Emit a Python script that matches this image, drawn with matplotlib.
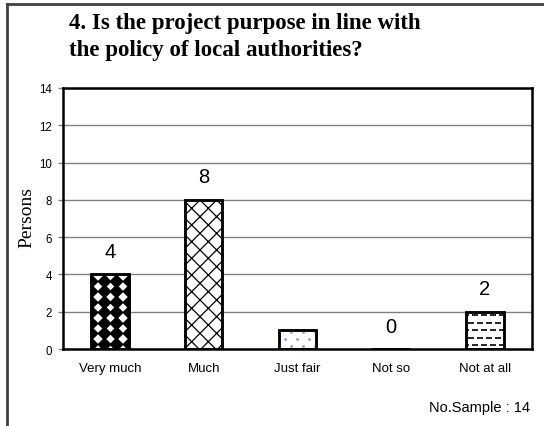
# -*- coding: utf-8 -*-
import numpy as np
import matplotlib
matplotlib.use("Agg")
import matplotlib.pyplot as plt
from matplotlib.lines import Line2D

# ====== Datos ======
categorias = ["Very much", "Much", "Just fair", "Not so", "Not at all"]
personas = [4, 8, 1, 0, 2]
etiquetas_valor = ["4", "8", "", "0", "2"]
titulo = "4. Is the project purpose in line with\nthe policy of local authorities?"
muestra = "No.Sample : 14"

SANS = "Liberation Sans"
SERIF = "Liberation Serif"

plt.rcParams["hatch.linewidth"] = 0.9

fig = plt.figure(figsize=(5.44, 4.27), dpi=100)
ax = fig.add_axes([0.1158, 0.1803, 0.862, 0.6113])

x = np.arange(len(categorias))
ANCHO = 0.4


def relleno_marcadores(ax, barra, dx, dy, marker, size, color, stagger=True):
    # rellena una barra con un patrón de marcadores recortados a la barra
    x0, y0 = barra.get_x(), barra.get_y()
    w, h = barra.get_width(), barra.get_height()
    if h <= 0:
        return
    # pasar paso en pixeles a datos
    inv = ax.transData.inverted()
    p0 = inv.transform((0, 0))
    p1 = inv.transform((dx, dy))
    sx, sy = p1[0] - p0[0], p1[1] - p0[1]
    xs, ys = [], []
    for i, yy in enumerate(np.arange(y0 + sy / 2, y0 + h + sy, sy)):
        off = sx / 2 if (stagger and i % 2) else 0
        for xx in np.arange(x0 + off, x0 + w + sx, sx):
            xs.append(xx)
            ys.append(yy)
    pts = ax.scatter(xs, ys, marker=marker, s=size, color=color, linewidths=1.2, zorder=3)
    pts.set_clip_path(barra)


ax.set_xlim(-0.5, len(categorias) - 0.5)
ax.set_ylim(0, 14)

barras = ax.bar(x, personas, width=ANCHO, color="white", edgecolor="black",
                linewidth=1.8, zorder=2)

# Very much: diamantes negros
relleno_marcadores(ax, barras[0], 12.5, 10.5, "D", 38, "black", stagger=False)
# Much: tejido
barras[1].set_hatch("xx")
# Just fair: puntos claros
relleno_marcadores(ax, barras[2], 12, 7, ".", 3, "#9a9ad8", stagger=True)
# Not at all: guiones
relleno_marcadores(ax, barras[4], 9, 7.5, "_", 22, "black", stagger=True)

# contornos encima
ax.bar(x, personas, width=ANCHO, color="none", edgecolor="black", linewidth=1.8, zorder=4)

for xi, v, lab in zip(x, personas, etiquetas_valor):
    if lab:
        ax.annotate(lab, (xi, v), xytext=(0, 16.5), textcoords="offset points",
                    ha="center", va="center", fontsize=14.5, family=SANS)

ax.yaxis.grid(True, color="#808080", linewidth=1.0, zorder=0)
ax.set_axisbelow(True)
ax.set_yticks(range(0, 15, 2))
ax.set_xticks(x)
ax.set_xticklabels(categorias, fontsize=9.5, family=SANS)
ax.tick_params(axis="x", length=0, pad=9)
ax.tick_params(axis="y", length=3.6, width=1, color="#808080", pad=4.3, labelsize=8.3)
for t in ax.get_yticklabels():
    t.set_family(SANS)
for s in ax.spines.values():
    s.set_linewidth(1.8)
    s.set_color("black")

fig.text(27 / 544, 1 - 218 / 427, "Persons", rotation=90, ha="center", va="center",
         fontsize=14, family=SERIF)

fig.text(69 / 544, 1 - 37 / 427, titulo, ha="left", va="center", fontsize=16.5,
         fontweight="bold", family=SERIF, linespacing=1.35)

fig.text(530 / 544, 1 - 408 / 427, muestra, ha="right", va="center", fontsize=10.5,
         family=SANS)

# marco de la figura (solo arriba e izquierda)
fig.add_artist(Line2D([7 / 544, 1], [1 - 5 / 427, 1 - 5 / 427], color="#404040",
                      linewidth=2, transform=fig.transFigure))
fig.add_artist(Line2D([7 / 544, 7 / 544], [1 - 5 / 427, 0], color="#404040",
                      linewidth=2, transform=fig.transFigure))

fig.savefig("out.png", dpi=100)
